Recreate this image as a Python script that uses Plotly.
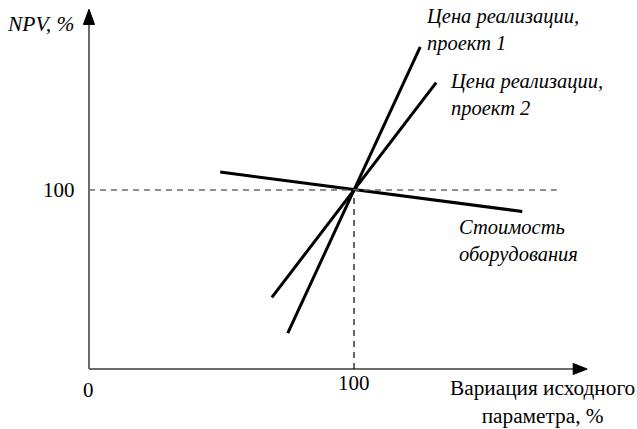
import plotly.graph_objects as go

# Sensitivity lines: variation of the base parameter (%) vs NPV (%)
proj1_x = [75, 125]
proj1_y = [20, 180]
proj2_x = [69, 131]
proj2_y = [40, 160]
equip_x = [49.5, 163.5]
equip_y = [110, 88]

base_value = 100
x_axis_end = 188
y_axis_end = 201
ref_line_end = 176.5

SERIF = "Liberation Serif"
BLACK = "#000000"
AXIS = "#6b6b6b"

fig = go.Figure()

for xs, ys in [(proj1_x, proj1_y), (proj2_x, proj2_y), (equip_x, equip_y)]:
    fig.add_trace(go.Scatter(x=xs, y=ys, mode="lines",
                             line=dict(color=BLACK, width=3),
                             hoverinfo="skip", showlegend=False))

shapes = [
    # axes
    dict(type="line", x0=0, y0=0, x1=x_axis_end - 4, y1=0,
         line=dict(color=AXIS, width=2)),
    dict(type="line", x0=0, y0=0, x1=0, y1=y_axis_end - 6,
         line=dict(color=AXIS, width=2)),
    # arrowheads
    dict(type="path",
         path=f"M {x_axis_end - 5.3},-3.1 L {x_axis_end},0 L {x_axis_end - 5.3},3.1 Z",
         fillcolor=BLACK, line=dict(color=BLACK, width=1)),
    dict(type="path",
         path=f"M -2.1,{y_axis_end - 8.5} L 0,{y_axis_end} L 2.1,{y_axis_end - 8.5} Z",
         fillcolor=BLACK, line=dict(color=BLACK, width=1)),
    # reference dashes at the base value
    dict(type="line", x0=0, y0=base_value, x1=ref_line_end, y1=base_value,
         line=dict(color=AXIS, width=1.3, dash="6px,5px")),
    dict(type="line", x0=base_value, y0=0, x1=base_value, y1=base_value,
         line=dict(color=BLACK, width=1.2, dash="6px,5px")),
]

def note(x, y, text, italic=False, xanchor="left", align="left", size=20.5):
    txt = f"<i>{text}</i>" if italic else text
    return dict(x=x, y=y, xref="x", yref="y", text=txt, showarrow=False,
                xanchor=xanchor, yanchor="middle", align=align,
                font=dict(family=SERIF, size=size, color=BLACK))

annotations = [
    note(-4.5, 193, "NPV, %", italic=True, xanchor="right", size=21.5),
    note(-4.5, base_value, "100", xanchor="right", size=21),
    note(0, -11.5, "0", xanchor="center", size=21),
    note(base_value, -8, "100", xanchor="center", size=21),
    note(171.3, -18.5, "Вариация исходного<br>параметра, %", xanchor="center",
         align="center", size=21.3),
    note(126.3, 189.5, "Цена реализации,<br>проект 1", italic=True),
    note(135.5, 153, "Цена реализации,<br>проект 2", italic=True),
    note(138.8, 71.5, "Стоимость<br>оборудования", italic=True),
]

fig.update_layout(
    width=637, height=429,
    margin=dict(l=0, r=0, t=0, b=0),
    paper_bgcolor="white", plot_bgcolor="white",
    font=dict(family=SERIF),
    xaxis=dict(range=[-33.58, 206.79], visible=False, fixedrange=True),
    yaxis=dict(range=[-33.52, 206.15], visible=False, fixedrange=True),
    shapes=shapes, annotations=annotations,
    showlegend=False,
)

fig.write_html("out.html")
